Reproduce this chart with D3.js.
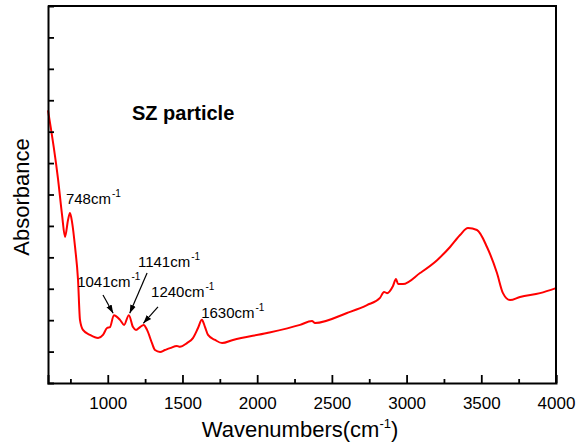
<!DOCTYPE html>
<html>
<head>
<meta charset="utf-8">
<script src="https://cdn.jsdelivr.net/npm/d3@7"></script>
<style>
  body { margin: 0; background: #fff; }
  svg { display: block; font-family: "Liberation Sans", Arial, sans-serif; }
</style>
</head>
<body>
<svg id="chart" width="580" height="444"></svg>
<script>
// data
var wavenumbers = [600, 667, 694, 714, 734, 747, 761, 781, 801, 814, 834, 881, 935, 968, 995, 1015, 1041,
  1082, 1109, 1141, 1169, 1189, 1216, 1240, 1263, 1296, 1316, 1350, 1383, 1417, 1463, 1483, 1530, 1570,
  1604, 1630, 1651, 1671, 1718, 1765, 1838, 2066, 2287, 2367, 2387, 2601, 2735, 2822, 2849, 2869, 2909,
  2929, 2943, 2976, 3090, 3204, 3291, 3358, 3411, 3471, 3538, 3605, 3645, 3692, 3759, 3893, 4000];
var absorbance = [0.868, 0.650, 0.535, 0.465, 0.519, 0.541, 0.512, 0.433, 0.328, 0.201, 0.169, 0.153, 0.143,
  0.153, 0.175, 0.178, 0.216, 0.201, 0.185, 0.216, 0.178, 0.169, 0.178, 0.185, 0.169, 0.127, 0.105, 0.099,
  0.105, 0.111, 0.118, 0.115, 0.127, 0.143, 0.175, 0.201, 0.178, 0.153, 0.137, 0.127, 0.137, 0.159, 0.185,
  0.197, 0.191, 0.223, 0.248, 0.271, 0.290, 0.286, 0.309, 0.331, 0.315, 0.315, 0.350, 0.391, 0.433, 0.471,
  0.493, 0.487, 0.433, 0.350, 0.286, 0.264, 0.274, 0.286, 0.302];

var xMajorTicks = [1000, 1500, 2000, 2500, 3000, 3500, 4000];
var xMinorTicks = [750, 1250, 1750, 2250, 2750, 3250, 3750];
var yTicks = [0.1, 0.2, 0.3, 0.4, 0.5, 0.6, 0.7, 0.8, 0.9, 1.0, 1.1];

// peak labels (data coords of text start) and arrows (from -> to, data coords)
var peakNames = ["748", "1041", "1141", "1240", "1630"];
var peakLabelAt = [[720, 0.569], [795, 0.306], [1202, 0.369], [1290, 0.274], [1625, 0.207]];
var peakArrows = [null, [[968, 0.280], [1036, 0.222]], [[1263, 0.350], [1147, 0.222]], [[1336, 0.242], [1238, 0.190]], null];

var margin = {left: 48, right: 24, top: 6, bottom: 61};
var W = 580, H = 444;

var svg = d3.select("#chart");

var x = d3.scaleLinear().domain([600, 4000]).range([margin.left, W - margin.right]);
var y = d3.scaleLinear().domain([0, 1.2]).range([H - margin.bottom, margin.top]);

svg.append("defs").append("marker")
  .attr("id", "arrow")
  .attr("viewBox", "0 0 10 10")
  .attr("refX", 10).attr("refY", 5)
  .attr("markerWidth", 7).attr("markerHeight", 7)
  .attr("orient", "auto")
  .append("path").attr("d", "M0,1.5 L10,5 L0,8.5 Z").attr("fill", "#000");

// spectrum
var line = d3.line()
  .x(function(d, i) { return x(wavenumbers[i]); })
  .y(function(d) { return y(d); })
  .curve(d3.curveMonotoneX);

svg.append("path")
  .datum(absorbance)
  .attr("d", line)
  .attr("fill", "none")
  .attr("stroke", "#ff0000")
  .attr("stroke-width", 2)
  .attr("stroke-linejoin", "round");

// axes
var xAxis = svg.append("g")
  .attr("transform", "translate(0," + y(0) + ")")
  .call(d3.axisBottom(x).tickValues(xMajorTicks).tickSize(-8).tickPadding(14).tickFormat(d3.format("d")));
svg.append("g")
  .attr("transform", "translate(0," + y(0) + ")")
  .call(d3.axisBottom(x).tickValues(xMinorTicks).tickSize(-4).tickFormat(""))
  .select(".domain").remove();
var yAxis = svg.append("g")
  .attr("transform", "translate(" + x(600) + ",0)")
  .call(d3.axisLeft(y).tickValues(yTicks).tickSize(-6).tickFormat(""));

svg.selectAll(".tick line").attr("stroke", "#000").attr("stroke-width", 1.8);
svg.selectAll(".domain").attr("stroke", "#000").attr("stroke-width", 2);
xAxis.selectAll(".tick text")
  .attr("font-size", 17)
  .attr("font-family", "Liberation Sans, Arial, sans-serif")
  .attr("fill", "#000");

// top and right border
svg.append("path")
  .attr("d", "M" + x(600) + "," + y(1.2) + " H" + x(4000) + " V" + y(0))
  .attr("fill", "none").attr("stroke", "#000").attr("stroke-width", 2);

// axis titles
svg.append("text")
  .attr("x", 300).attr("y", 437)
  .attr("text-anchor", "middle")
  .attr("font-size", 22)
  .html('Wavenumbers(cm<tspan dy="-9" font-size="13">-1</tspan><tspan dy="9">)</tspan>');

svg.append("text")
  .attr("transform", "translate(29,197) rotate(-90)")
  .attr("text-anchor", "middle")
  .attr("font-size", 22)
  .text("Absorbance");

svg.append("text")
  .attr("x", 132).attr("y", 120)
  .attr("font-size", 20)
  .attr("font-weight", "bold")
  .text("SZ particle");

// peak annotations
var ann = svg.append("g").attr("font-size", 15);
peakNames.forEach(function(p, i) {
  var t = ann.append("text")
    .attr("x", x(peakLabelAt[i][0])).attr("y", y(peakLabelAt[i][1]));
  t.append("tspan").text(p + "cm");
  t.append("tspan").attr("dy", -7).attr("dx", 1).attr("font-size", 10).text("-1");
  if (peakArrows[i]) {
    ann.append("line")
      .attr("x1", x(peakArrows[i][0][0])).attr("y1", y(peakArrows[i][0][1]))
      .attr("x2", x(peakArrows[i][1][0])).attr("y2", y(peakArrows[i][1][1]))
      .attr("stroke", "#000").attr("stroke-width", 1.2)
      .attr("marker-end", "url(#arrow)");
  }
});
</script>
</body>
</html>
